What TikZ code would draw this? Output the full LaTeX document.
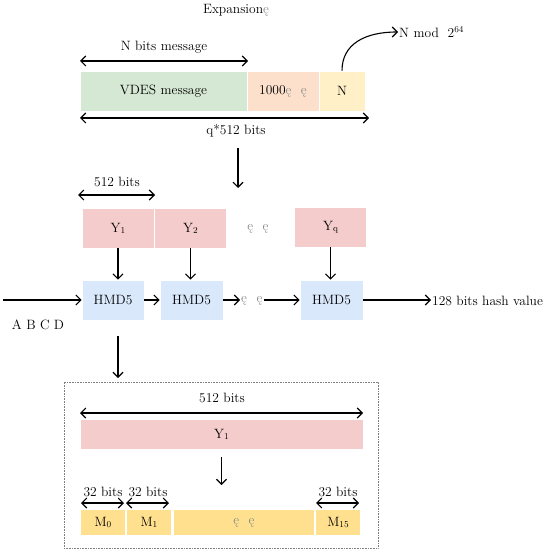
\documentclass[tikz,border=0pt]{standalone}
\usetikzlibrary{arrows.meta}
\definecolor{cgreen}{HTML}{D5E8D4}
\definecolor{corange}{HTML}{FCE0CB}
\definecolor{cyellow}{HTML}{FFF0C8}
\definecolor{cpink}{HTML}{F4CCCC}
\definecolor{cblue}{HTML}{DAE8FC}
\definecolor{cmyel}{HTML}{FFE08F}
\definecolor{cdots}{HTML}{8A8A8A}
\newcommand{\sub}[1]{\raisebox{-0.2ex}{\small #1}}
\newcommand{\dd}{{\color{cdots}ę\hspace{0.7em}ę}}
\begin{document}
\begin{tikzpicture}[x=1pt,y=-1pt,
  font=\fontsize{13.5}{15}\selectfont,
  blk/.style={draw=white,line width=0.8pt,inner sep=0pt,minimum height=40pt},
  arr/.style={line width=1.1pt,-{Straight Barb[length=5pt,width=10pt]}},
  darr/.style={line width=1.1pt,{Straight Barb[length=5pt,width=10pt]}-{Straight Barb[length=5pt,width=10pt]}},
  lbl/.style={inner sep=1pt}]
\useasboundingbox (0,0) rectangle (550,553);
% top part
\node[lbl] (exp) at (236,10) {Expansion{\color{cdots}ę}};
\node[lbl] (nbm) at (164,47) {N bits message};
\coordinate (nbl) at (80,61); \coordinate (nbr) at (248,61);
\draw[darr] (nbl) -- (nbr);
\node[blk,fill=cgreen,minimum width=167pt] (vdes) at (163.5,91) {VDES message};
\node[blk,fill=corange,minimum width=72pt] (pad) at (283,91) {1000\dd};
\node[blk,fill=cyellow,minimum width=46pt] (nn) at (342,91) {N};
\coordinate (ql) at (80,118); \coordinate (qr) at (369,118);
\draw[darr] (ql) -- (qr);
\node[lbl] (q512) at (236,131) {q*512 bits};
\node[lbl,anchor=west] (nmod) at (398,32) {N mod\ \ 2\textsuperscript{\small 64}};
\draw[line width=1.1pt,-{Straight Barb[length=5pt,width=10pt]}] (nn.north) .. controls (342,44) and (365,32) .. (nmod.west);
% split
\coordinate (d1) at (238,148); \coordinate (d2) at (238,188);
\draw[arr] (d1) -- (d2);
\node[lbl] (b512) at (117,182) {512 bits};
\coordinate (bl) at (78,195); \coordinate (br) at (155,195);
\draw[darr] (bl) -- (br);
\node[blk,fill=cpink,minimum width=72pt] (y1) at (118,228) {Y\sub{1}};
\node[blk,fill=cpink,minimum width=72pt] (y2) at (190.5,228) {Y\sub{2}};
\node[lbl] (ydots) at (258,229) {\dd};
\node[blk,fill=cpink,minimum width=72pt] (yq) at (330.5,227) {Y\sub{q}};
\node[blk,fill=cblue,minimum width=62pt] (h1) at (113,300) {HMD5};
\node[blk,fill=cblue,minimum width=63pt] (h2) at (191.5,300) {HMD5};
\node[blk,fill=cblue,minimum width=63pt] (h3) at (331.5,300) {HMD5};
\draw[arr] (y1.south) -- (y1.south |- h1.north);
\draw[arr] (y2.south) -- (y2.south |- h2.north);
\draw[arr] (yq.south) -- (yq.south |- h3.north);
\coordinate (in) at (3,300);
\draw[arr] (in) -- (h1.west);
\node[lbl] (abcd) at (38,325) {A B C D};
\draw[arr] (h1.east) -- (h2.west);
\node[lbl,anchor=west] (hdots) at (240,301) {\dd};
\draw[arr] (h2.east) -- (hdots.west |- h2.east);
\draw[arr] (hdots.east |- h3.west) -- (h3.west);
\node[lbl,anchor=west] (out) at (431,301) {128 bits hash value};
\draw[arr] (h3.east) -- (out.west |- h3.east);
% detail
\coordinate (dd1) at (118,336); \coordinate (dd2) at (118,378);
\draw[arr] (dd1) -- (dd2);
\node[draw=gray,densely dotted,line width=0.6pt,minimum width=314pt,minimum height=166pt,inner sep=0pt] (frame) at (221,465) {};
\node[lbl] (f512) at (222,398) {512 bits};
\coordinate (fl) at (80,413); \coordinate (fr) at (363,413);
\draw[darr] (fl) -- (fr);
\node[blk,fill=cpink,minimum width=283pt,minimum height=30pt] (fy1) at (221.5,434) {Y\sub{1}};
\coordinate (fd) at (221.5,485);
\draw[arr] (fy1.south |- 0,457) -- (fd);
\node[blk,fill=cmyel,minimum width=45pt,minimum height=26pt] (m0) at (103,522.5) {M\sub{0}};
\node[blk,fill=cmyel,minimum width=45pt,minimum height=26pt] (m1) at (149,522.5) {M\sub{1}};
\node[blk,fill=cmyel,minimum width=141pt,minimum height=26pt] (mdots) at (244,522.5) {\dd};
\node[blk,fill=cmyel,minimum width=45pt,minimum height=26pt] (m15) at (338,522.5) {M\sub{15}};
\node[lbl] (t1) at (103,492) {32 bits};
\node[lbl] (t2) at (148,492) {32 bits};
\node[lbl] (t3) at (338,492) {32 bits};
\draw[darr] (81,503) -- (124,503);
\draw[darr] (126,503) -- (169,503);
\draw[darr] (316,503) -- (359,503);
\end{tikzpicture}
\end{document}
